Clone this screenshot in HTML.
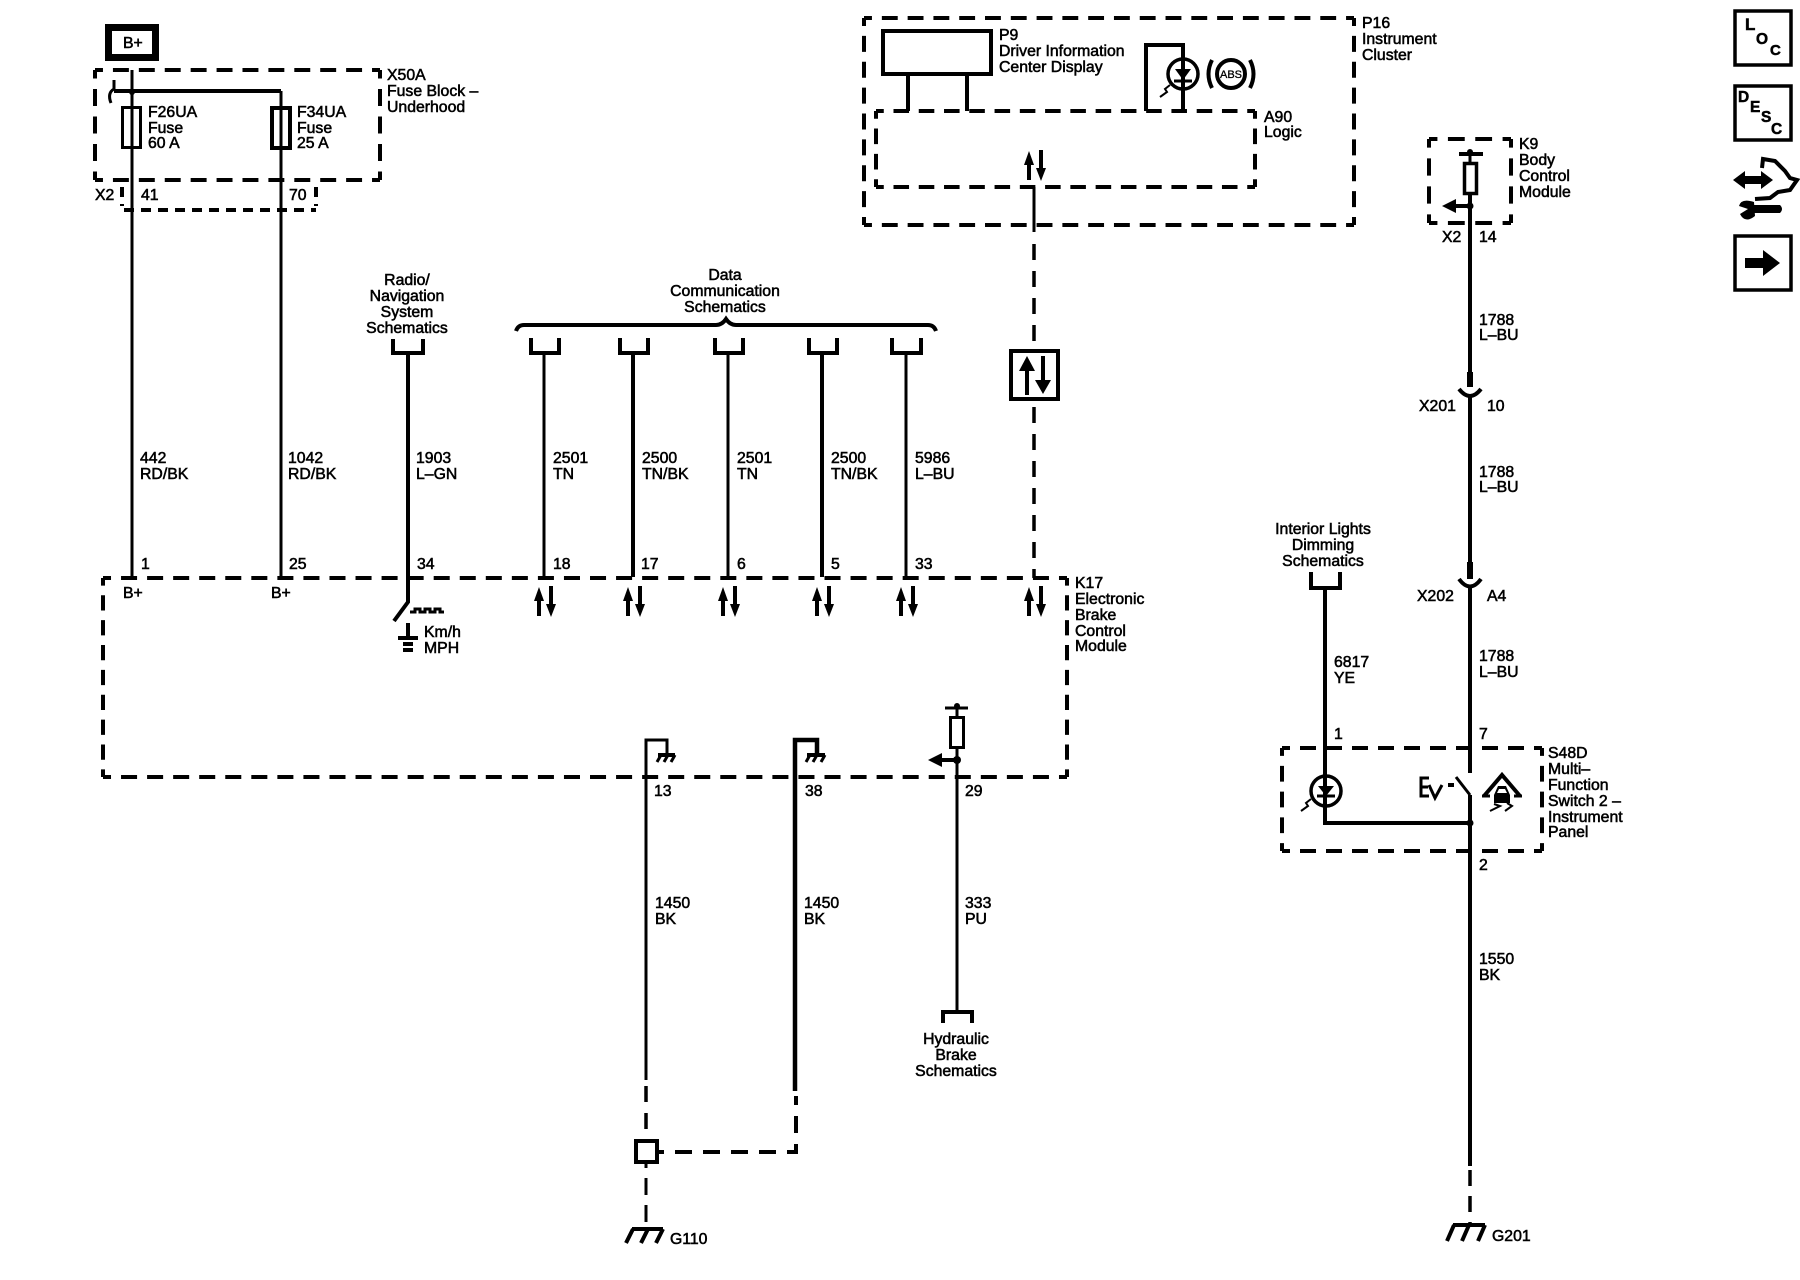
<!DOCTYPE html>
<html><head><meta charset="utf-8"><title>Diagram</title>
<style>
html,body{margin:0;padding:0;background:#fff}
svg{display:block}
text{font-family:"Liberation Sans",sans-serif;font-size:15.8px;fill:#000;stroke:#000;stroke-width:.55}
.m{text-anchor:middle}
.w{fill:none;stroke:#000;stroke-width:3}
.w4{fill:none;stroke:#000;stroke-width:4}
.w5{fill:none;stroke:#000;stroke-width:5}
.d{fill:none;stroke:#000;stroke-width:4;stroke-dasharray:16 10;stroke-dashoffset:8}
.v{fill:none;stroke:#000;stroke-width:3.5;stroke-dasharray:16 11}
.s{fill:none;stroke:#000;stroke-width:4;stroke-dasharray:10 7}
.b{font-weight:bold;stroke-width:.5}
</style></head><body>
<svg width="1800" height="1280" viewBox="0 0 1800 1280" xmlns="http://www.w3.org/2000/svg">
<defs>
<g id="ud"><path d="M-5 616V596M7 586V606" stroke="#000" stroke-width="4" fill="none"/><path d="M-10 601L-5 587L0 601ZM2 604L7 617L12 604Z" fill="#000"/></g>
</defs>
<rect width="1800" height="1280" fill="#fff"/>

<!-- B+ and X50A -->
<rect x="108.500" y="27.500" width="47" height="30" fill="none" stroke="#000" stroke-width="7"/>
<text x="123" y="48">B+</text>
<path class="d" pathLength="286" d="M95 70H380"/><path class="d" pathLength="286" d="M95 180H380"/>
<path class="d" pathLength="104" d="M95 70V180"/><path class="d" pathLength="104" d="M380 70V180"/>
<path class="s" d="M124 210H316"/><path class="s" d="M122 187V206"/><path class="s" d="M316 187V206"/>
<path class="w" d="M132 70V577M281 91V577"/>
<path class="w4" d="M114 91H281"/>
<path class="w" d="M114 80V89Q107 93 111 103"/>
<circle cx="132" cy="92" r="3"/>
<rect x="122.500" y="107.500" width="18" height="40" fill="none" stroke="#000" stroke-width="3"/>
<rect x="272" y="108" width="18" height="40" fill="none" stroke="#000" stroke-width="4"/>
<text x="387" y="80">X50A</text><text x="387" y="96">Fuse Block –</text><text x="387" y="112">Underhood</text>
<text x="148" y="117">F26UA</text><text x="148" y="133">Fuse</text><text x="148" y="148">60 A</text>
<text x="297" y="117">F34UA</text><text x="297" y="133">Fuse</text><text x="297" y="148">25 A</text>
<text x="95" y="200">X2</text><text x="141" y="200">41</text><text x="289" y="200">70</text>
<text x="140" y="463">442</text><text x="140" y="479">RD/BK</text>
<text x="288" y="463">1042</text><text x="288" y="479">RD/BK</text>

<!-- Radio -->
<text class="m" x="407" y="285">Radio/</text><text class="m" x="407" y="301">Navigation</text><text class="m" x="407" y="317">System</text><text class="m" x="407" y="333">Schematics</text>
<path class="w4" d="M393 339V353H423V339"/>
<path class="w4" d="M408 353V602L394 621"/>
<path class="w" d="M410 612H415V609H420V612H425V609H430V612H435V609H440V612H444"/>
<path class="w4" d="M408 623V637M398 638H418M403 644H413M403 650H413"/>
<text x="424" y="637">Km/h</text><text x="424" y="653">MPH</text>
<text x="416" y="463">1903</text><text x="416" y="479">L–GN</text>

<!-- Data communication -->
<text class="m" x="725" y="280">Data</text><text class="m" x="725" y="296">Communication</text><text class="m" x="725" y="312">Schematics</text>
<path class="w4" d="M516 331Q518 325 524 325H716Q722 325 726 319Q730 325 736 325H928Q934 325 936 331"/>
<path class="w4" d="M531 338V353H559V338M620 338V353H648V338M715 338V353H743V338M809 338V353H837V338M892 338V353H921V338"/>
<path class="w" d="M544 353V577M728 353V577M906 353V577"/>
<path class="w4" d="M633 353V577M822 353V577"/>
<text x="553" y="463">2501</text><text x="553" y="479">TN</text>
<text x="642" y="463">2500</text><text x="642" y="479">TN/BK</text>
<text x="737" y="463">2501</text><text x="737" y="479">TN</text>
<text x="831" y="463">2500</text><text x="831" y="479">TN/BK</text>
<text x="915" y="463">5986</text><text x="915" y="479">L–BU</text>

<!-- K17 -->
<path class="d" pathLength="962" d="M103 578H1067"/><path class="d" pathLength="962" d="M103 777H1067"/>
<path class="d" pathLength="208" d="M103 578V777"/><path class="d" pathLength="208" d="M1067 578V777"/>
<text x="141" y="569">1</text><text x="289" y="569">25</text><text x="417" y="569">34</text><text x="553" y="569">18</text><text x="641" y="569">17</text><text x="737" y="569">6</text><text x="831" y="569">5</text><text x="915" y="569">33</text>
<text x="123" y="598">B+</text><text x="271" y="598">B+</text>
<use href="#ud" transform="translate(544,0)"/><use href="#ud" transform="translate(633,0)"/><use href="#ud" transform="translate(728,0)"/><use href="#ud" transform="translate(822,0)"/><use href="#ud" transform="translate(906,0)"/><use href="#ud" transform="translate(1034,0)"/>
<text x="1075" y="588">K17</text><text x="1075" y="604">Electronic</text><text x="1075" y="620">Brake</text><text x="1075" y="636">Control</text><text x="1075" y="651">Module</text>

<!-- P16 / A90 -->
<path class="d" pathLength="494" d="M864 18H1354"/><path class="d" pathLength="494" d="M864 225H1354"/>
<path class="d" pathLength="208" d="M864 18V225"/><path class="d" pathLength="208" d="M1354 18V225"/>
<path class="d" pathLength="390" d="M876 111H1255"/><path class="d" pathLength="390" d="M876 187H1255"/>
<path class="d" pathLength="78" d="M876 111V187"/><path class="d" pathLength="78" d="M1255 111V187"/>
<rect x="883" y="31" width="108" height="43" fill="none" stroke="#000" stroke-width="4"/>
<path class="w4" d="M908 74V111M967 74V111M1146 111V45H1183V111"/>
<circle cx="1183" cy="74" r="15" fill="none" stroke="#000" stroke-width="3.500"/>
<path d="M1175 69H1191L1183 80Z" fill="#000"/><path class="w" d="M1174 81H1192"/>
<path d="M1160 97L1167 92L1165 89L1170 85" stroke="#000" stroke-width="2" fill="none"/>
<circle cx="1231" cy="74" r="14" fill="none" stroke="#000" stroke-width="4"/>
<text class="m" x="1231" y="78" style="font-size:11px;stroke-width:.3">ABS</text>
<path class="w4" d="M1212 60Q1205 74 1212 88M1250 60Q1257 74 1250 88"/>
<text x="999" y="40">P9</text><text x="999" y="56">Driver Information</text><text x="999" y="72">Center Display</text>
<text x="1362" y="28">P16</text><text x="1362" y="44">Instrument</text><text x="1362" y="60">Cluster</text>
<text x="1264" y="122">A90</text><text x="1264" y="137">Logic</text>
<use href="#ud" transform="translate(1034,-436)"/>
<path class="w" d="M1034 187V232"/>
<path class="v" d="M1034 244V349"/>
<path class="v" d="M1034 407V578"/>
<rect x="1011" y="351" width="47" height="48" fill="#fff" stroke="#000" stroke-width="4"/>
<path d="M1027 395V368M1043 356V384" stroke="#000" stroke-width="4" fill="none"/>
<path d="M1019 371L1027 356L1035 371ZM1035 380L1043 394L1051 380Z" fill="#000"/>

<!-- Grounds K17 -->
<path class="w" d="M646 1080V740H667V753"/>
<path class="w5" d="M795 1091V740H817V753" style="stroke-width:4.500"/>
<path class="w" d="M817 740V753"/>
<path class="w4" d="M658 755H675M807 755H825"/>
<path class="w" d="M661 755L657 762M668 755L664 762M675 755L671 762M810 755L806 762M817 755L813 762M825 755L821 762"/>
<text x="654" y="796">13</text><text x="805" y="796">38</text><text x="965" y="796">29</text>
<path class="w" d="M945 708H968M957 704V717M957 747V1011"/>
<rect x="950.500" y="717.500" width="13" height="30" fill="none" stroke="#000" stroke-width="3"/>
<circle cx="957" cy="706" r="3"/><circle cx="957" cy="760" r="4"/>
<path class="w4" d="M942 760H957"/><path d="M928 760L942 753V767Z"/>
<path class="w4" d="M943 1023V1012H972V1023"/>
<text class="m" x="956" y="1044">Hydraulic</text><text class="m" x="956" y="1060">Brake</text><text class="m" x="956" y="1076">Schematics</text>
<text x="655" y="908">1450</text><text x="655" y="924">BK</text>
<text x="804" y="908">1450</text><text x="804" y="924">BK</text>
<text x="965" y="908">333</text><text x="965" y="924">PU</text>
<path class="v" d="M646 1086V1139" style="stroke-dashoffset:0;stroke-dasharray:16 11"/>
<rect x="636" y="1141" width="21" height="21" fill="#fff" stroke="#000" stroke-width="4"/>
<path class="w" style="stroke-dasharray:17 10;stroke-dashoffset:13" d="M646 1164V1229"/>
<path class="w4" style="stroke-dasharray:17 11;stroke-dashoffset:12" d="M659 1152H796V1096"/>
<path class="w4" d="M632 1229H663M633 1229L626 1243M648 1229L641 1243M663 1229L656 1243"/>
<text x="670" y="1244">G110</text>

<!-- K9 -->
<path class="d" pathLength="78" d="M1429 139H1511"/><path class="d" pathLength="78" d="M1429 223H1511"/>
<path class="d" pathLength="78" d="M1429 139V223"/><path class="d" pathLength="78" d="M1511 139V223"/>
<path class="w4" d="M1459 154H1483"/><path class="w" d="M1470 151V163"/>
<circle cx="1470" cy="152" r="3"/>
<rect x="1464.500" y="163.500" width="12" height="30" fill="none" stroke="#000" stroke-width="3.500"/>
<path class="w4" d="M1470 194V372M1456 206H1470"/><path d="M1442 206L1456 199V213Z"/><circle cx="1470" cy="206" r="3.500"/>
<text x="1519" y="149">K9</text><text x="1519" y="165">Body</text><text x="1519" y="181">Control</text><text x="1519" y="197">Module</text>
<text x="1442" y="242">X2</text><text x="1479" y="242">14</text>
<text x="1479" y="325">1788</text><text x="1479" y="340">L–BU</text>
<path d="M1470 372V387" stroke="#000" stroke-width="6"/>
<path class="w4" d="M1459 389Q1470 403 1481 389"/>
<path class="w4" d="M1470 396V562"/>
<text x="1419" y="411">X201</text><text x="1487" y="411">10</text>
<text x="1479" y="477">1788</text><text x="1479" y="492">L–BU</text>
<path d="M1470 562V579" stroke="#000" stroke-width="6"/>
<path class="w4" d="M1459 579Q1470 594 1481 579"/>
<path class="w4" d="M1470 587V773"/>
<text x="1417" y="601">X202</text><text x="1487" y="601">A4</text>
<text x="1479" y="661">1788</text><text x="1479" y="677">L–BU</text>

<!-- Interior lights -->
<text class="m" x="1323" y="534">Interior Lights</text><text class="m" x="1323" y="550">Dimming</text><text class="m" x="1323" y="566">Schematics</text>
<path class="w4" d="M1311 572V588H1340V572"/>
<path class="w4" d="M1325 588V823H1470"/>
<text x="1334" y="667">6817</text><text x="1334" y="683">YE</text>

<!-- S48D -->
<path class="d" pathLength="260" d="M1282 748H1542"/><path class="d" pathLength="260" d="M1282 851H1542"/>
<path class="d" pathLength="104" d="M1282 748V851"/><path class="d" pathLength="104" d="M1542 748V851"/>
<circle cx="1326" cy="791" r="15" fill="none" stroke="#000" stroke-width="3.500"/>
<path d="M1318 786H1334L1326 796Z"/><path class="w" d="M1317 796H1335"/>
<path d="M1301 811L1308 806L1306 803L1311 799" stroke="#000" stroke-width="2" fill="none"/>
<path class="w" d="M1456 777L1470 795"/>
<path class="w4" d="M1470 795V1166"/>
<circle cx="1470" cy="823" r="3.500"/>
<path class="w" d="M1429 778H1421V796H1429M1421 787H1428M1429 785L1435 798L1442 785"/>
<path class="w4" d="M1448 785H1454"/>
<path class="w4" d="M1484 796L1502 775L1520 796"/>
<path class="w" d="M1482 796H1490M1514 796H1522"/>
<path d="M1498 786H1506L1510 795V803H1494V795ZM1499 789L1497 793H1507L1505 789Z" fill-rule="evenodd"/>
<path d="M1490 811L1500 806L1494 804M1505 811L1512 806L1507 803" stroke="#000" stroke-width="2" fill="none"/>
<text x="1334" y="739">1</text><text x="1479" y="739">7</text><text x="1479" y="870">2</text>
<text x="1548" y="758">S48D</text><text x="1548" y="774">Multi–</text><text x="1548" y="790">Function</text><text x="1548" y="806">Switch 2 –</text><text x="1548" y="822">Instrument</text><text x="1548" y="837">Panel</text>
<text x="1479" y="964">1550</text><text x="1479" y="980">BK</text>
<path class="v" d="M1470 1170V1224" style="stroke-dasharray:16 10"/>
<path class="w4" d="M1453 1225H1485M1454 1225L1447 1241M1469 1225L1462 1241M1485 1225L1478 1241"/>
<text x="1492" y="1241">G201</text>

<!-- Right icons -->
<rect x="1735" y="11" width="56" height="54" fill="none" stroke="#000" stroke-width="3.500"/>
<text class="b" x="1745" y="30" style="font-size:17px">L</text><text class="b" x="1756" y="44" style="font-size:15.5px">O</text><text class="b" x="1770" y="55" style="font-size:15px">C</text>
<rect x="1735" y="86" width="56" height="54" fill="none" stroke="#000" stroke-width="3.500"/>
<text class="b" x="1738" y="102" style="font-size:15.5px">D</text><text class="b" x="1750" y="112" style="font-size:15.5px">E</text><text class="b" x="1761" y="122" style="font-size:15.5px">S</text><text class="b" x="1771" y="134" style="font-size:15.5px">C</text>
<path d="M1733 180L1745 171V176H1761V171L1773 180L1761 189V184H1745V189Z"/>
<path class="w4" d="M1762 168L1763 159L1775 161L1785 171L1790 178L1797 180L1790 190L1778 192L1770 198L1755 199"/>
<path d="M1750 205H1780Q1784 209 1780 213H1750Z"/>
<path d="M1754 202Q1741 198 1739 206L1748 209L1740 214Q1745 224 1755 216Z"/>
<rect x="1735" y="236" width="56" height="54" fill="none" stroke="#000" stroke-width="3.500"/>
<path d="M1745 258H1763V250L1780 263L1763 276V268H1745Z"/>
</svg>
</body></html>
